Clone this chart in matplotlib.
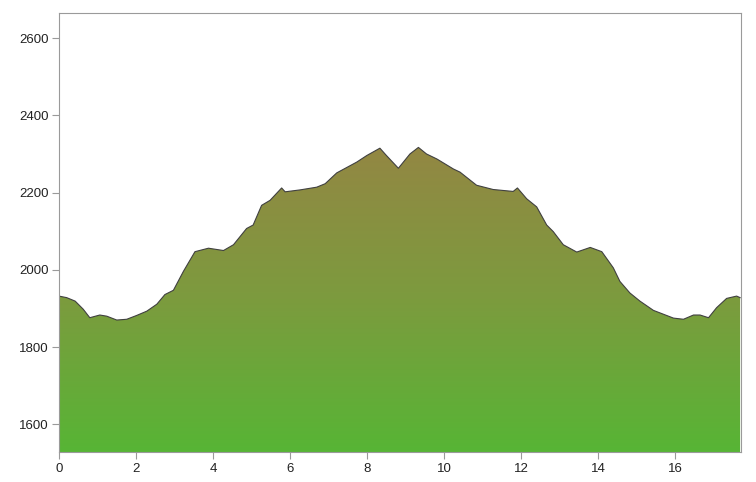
import numpy as np
import matplotlib.pyplot as plt
from matplotlib.colors import LinearSegmentedColormap

# профиль высот (км, м)
dist = [0.0, 0.2, 0.42, 0.63, 0.80, 1.06, 1.24, 1.50, 1.76, 2.02, 2.28, 2.54, 2.75,
        2.97, 3.23, 3.53, 3.88, 4.27, 4.53, 4.87, 5.04, 5.26, 5.48, 5.78, 5.87,
        6.26, 6.69, 6.91, 7.21, 7.73, 7.99, 8.33, 8.50, 8.81, 9.11, 9.33, 9.54,
        9.81, 10.24, 10.41, 10.84, 11.27, 11.79, 11.90, 12.14, 12.40, 12.66,
        12.83, 13.09, 13.44, 13.79, 14.09, 14.39, 14.56, 14.82, 15.08, 15.43,
        15.69, 15.95, 16.21, 16.47, 16.64, 16.86, 17.07, 17.33, 17.59, 17.68]
elev = [1932, 1928, 1919, 1898, 1876, 1883, 1880, 1870, 1872, 1882, 1893, 1911, 1936,
        1947, 1996, 2047, 2056, 2050, 2065, 2107, 2116, 2167, 2180, 2212, 2202,
        2207, 2214, 2223, 2251, 2279, 2296, 2315, 2296, 2263, 2300, 2317, 2300,
        2287, 2261, 2253, 2219, 2208, 2203, 2212, 2184, 2163, 2116,
        2099, 2065, 2046, 2058, 2047, 2005, 1970, 1940, 1919, 1895,
        1885, 1875, 1872, 1883, 1883, 1876, 1902, 1926, 1932, 1928]

xmin, xmax = 0, 17.7
ymin, ymax = 1528, 2665

fig = plt.figure(figsize=(7.56, 4.82), dpi=100)
ax = fig.add_axes([0.078, 0.062, 0.902, 0.911])

# градиентная заливка под профилем
cmap = LinearSegmentedColormap.from_list('g', ['#57b535', '#7c9b3e', '#938743'])
grad = np.linspace(0, 1, 256).reshape(-1, 1)
top = max(elev)
im = ax.imshow(grad, cmap=cmap, aspect='auto', origin='lower',
               extent=[xmin, xmax, ymin, top], zorder=1)
poly, = ax.fill(dist + [dist[-1], dist[0]], elev + [ymin, ymin],
                facecolor='none', edgecolor='none')
im.set_clip_path(poly)
ax.plot(dist, elev, color='#404040', lw=0.8, zorder=2)

ax.set_xlim(xmin, xmax)
ax.set_ylim(ymin, ymax)
ax.set_xticks(range(0, 17, 2))
ax.set_yticks(range(1600, 2601, 200))
for s in ax.spines.values():
    s.set_color('#9a9a9a')
ax.tick_params(colors='#9a9a9a', labelcolor='#222222', length=5, width=0.8,
               labelsize=9.5, pad=2.5)
for lab in ax.get_xticklabels() + ax.get_yticklabels():
    lab.set_family('Liberation Sans')

fig.savefig('out.png', dpi=100)
